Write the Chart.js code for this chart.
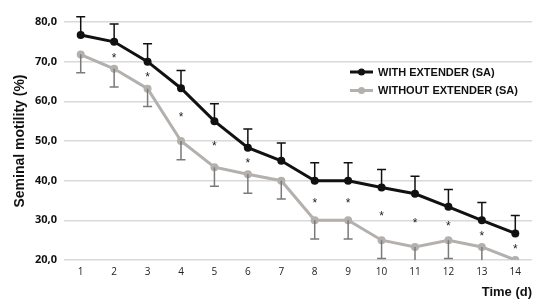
<!DOCTYPE html>
<html>
<head>
<meta charset="utf-8">
<script src="https://cdn.jsdelivr.net/npm/chart.js@4.4.1/dist/chart.umd.min.js"></script>
<style>
  html, body { margin: 0; padding: 0; background: #fff; }
  #wrap { width: 536px; height: 308px; position: relative; }
</style>
</head>
<body>
<div id="wrap"><canvas id="chart"></canvas></div>
<script>
// data
const days = ['1', '2', '3', '4', '5', '6', '7', '8', '9', '10', '11', '12', '13', '14'];
const withExtender = [76.7, 75.0, 70.0, 63.3, 55.0, 48.3, 45.0, 40.0, 40.0, 38.3, 36.7, 33.4, 30.0, 26.7];
const withExtenderSd = [4.6, 4.5, 4.5, 4.5, 4.4, 4.7, 4.5, 4.5, 4.5, 4.5, 4.4, 4.4, 4.5, 4.5];
const withoutExtender = [71.8, 68.2, 63.2, 50.0, 43.4, 41.6, 40.0, 30.0, 30.0, 25.0, 23.3, 25.0, 23.3, 20.0];
const withoutExtenderSd = [4.6, 4.6, 4.5, 4.7, 4.8, 4.8, 4.6, 4.7, 4.7, 4.6, 4.6, 4.6, 4.6, 4.6];
// significant difference marks (*) per day
const significant = [0, 1, 1, 1, 1, 1, 0, 1, 1, 1, 1, 1, 1, 1];

const BLACK = '#111111';
const GREY = '#b3b0ad';

// error bars: black one goes up, grey one goes down
const errorBars = {
    id: 'errorBars',
    afterDatasetsDraw(chart) {
        const { ctx, chartArea, scales: { x, y } } = chart;
        ctx.save();
        ctx.beginPath();
        ctx.rect(chartArea.left, chartArea.top - 12, chartArea.right - chartArea.left, chartArea.bottom - chartArea.top + 12);
        ctx.clip();
        chart.data.datasets.forEach(ds => {
            ctx.strokeStyle = ds.errColor;
            ctx.lineWidth = 1.5;
            ds.data.forEach((v, i) => {
                const px = x.getPixelForValue(i);
                const y0 = y.getPixelForValue(v);
                const yv = v + ds.errDir * ds.err[i];
                let y1 = y.getPixelForValue(yv);
                const clipped = yv < y.min;
                if (clipped) y1 = chartArea.bottom;
                ctx.beginPath();
                ctx.moveTo(px, y0);
                ctx.lineTo(px, y1);
                if (!clipped) {
                    ctx.moveTo(px - 4.5, y1);
                    ctx.lineTo(px + 4.5, y1);
                }
                ctx.stroke();
            });
        });
        ctx.restore();
    }
};

// asterisks between the two curves
const stars = {
    id: 'stars',
    afterDatasetsDraw(chart) {
        const { ctx, scales: { x, y } } = chart;
        ctx.save();
        ctx.fillStyle = '#222';
        ctx.font = '12px "Liberation Sans", Arial, sans-serif';
        ctx.textAlign = 'center';
        ctx.textBaseline = 'middle';
        significant.forEach((s, i) => {
            if (!s) return;
            const mid = (withExtender[i] + withoutExtender[i]) / 2;
            ctx.fillText('*', x.getPixelForValue(i), y.getPixelForValue(mid) + 3);
        });
        ctx.restore();
    }
};

// legend inside the plot, upper right
const innerLegend = {
    id: 'innerLegend',
    afterDraw(chart) {
        const { ctx } = chart;
        ctx.save();
        ctx.font = 'bold 11px "Liberation Sans", Arial, sans-serif';
        ctx.textBaseline = 'middle';
        chart.data.datasets.forEach((ds, i) => {
            const ly = 72 + i * 18.5;
            ctx.strokeStyle = ds.borderColor;
            ctx.lineWidth = 3;
            ctx.beginPath();
            ctx.moveTo(350, ly);
            ctx.lineTo(373, ly);
            ctx.stroke();
            ctx.fillStyle = ds.borderColor;
            ctx.beginPath();
            ctx.arc(361.5, ly, 3.5, 0, Math.PI * 2);
            ctx.fill();
            ctx.fillStyle = '#111';
            ctx.fillText(ds.label, 378, ly + 0.5);
        });
        ctx.restore();
    }
};

new Chart(document.getElementById('chart'), {
    type: 'line',
    data: {
        labels: days,
        datasets: [{
            label: 'WITH EXTENDER (SA)',
            data: withExtender,
            err: withExtenderSd,
            errDir: 1,
            errColor: '#111',
            borderColor: BLACK,
            backgroundColor: BLACK,
            borderWidth: 3,
            pointRadius: 4,
            pointBorderWidth: 0,
            tension: 0
        }, {
            label: 'WITHOUT EXTENDER (SA)',
            data: withoutExtender,
            err: withoutExtenderSd,
            errDir: -1,
            errColor: '#7a7a7a',
            borderColor: GREY,
            backgroundColor: GREY,
            borderWidth: 3,
            pointRadius: 4,
            pointBorderWidth: 0,
            tension: 0
        }]
    },
    options: {
        responsive: true,
        maintainAspectRatio: false,
        animation: false,
        layout: { padding: { top: 22, right: 1, left: 0, bottom: 0 } },
        plugins: {
            legend: { display: false },
            tooltip: { enabled: false }
        },
        scales: {
            x: {
                offset: true,
                grid: { display: false, drawTicks: false },
                border: { display: false },
                ticks: {
                    color: '#222',
                    font: { family: '"Open Sans", sans-serif', size: 10 },
                    padding: 6
                },
                title: {
                    display: true,
                    text: 'Time (d)',
                    align: 'end',
                    color: '#111',
                    font: { family: '"Liberation Sans", Arial, sans-serif', size: 13, weight: 'bold' },
                    padding: { top: 2, bottom: 8 }
                },
                afterFit(scale) { scale.height = 48; }
            },
            y: {
                min: 20,
                max: 80,
                grid: { color: '#d9d9d9', lineWidth: 1.5, drawTicks: false },
                border: { display: false },
                ticks: {
                    stepSize: 10,
                    color: '#111',
                    padding: 7,
                    font: { family: '"Open Sans", sans-serif', size: 11, weight: 'bold' },
                    callback: v => v.toFixed(1).replace('.', ',')
                },
                title: {
                    display: true,
                    text: 'Seminal motility (%)',
                    color: '#111',
                    font: { family: '"Liberation Sans", Arial, sans-serif', size: 14, weight: 'bold' },
                    padding: { top: 12, bottom: 4 }
                },
                afterFit(scale) { scale.width = 64; }
            }
        }
    },
    plugins: [errorBars, stars, innerLegend]
});
</script>
</body>
</html>
